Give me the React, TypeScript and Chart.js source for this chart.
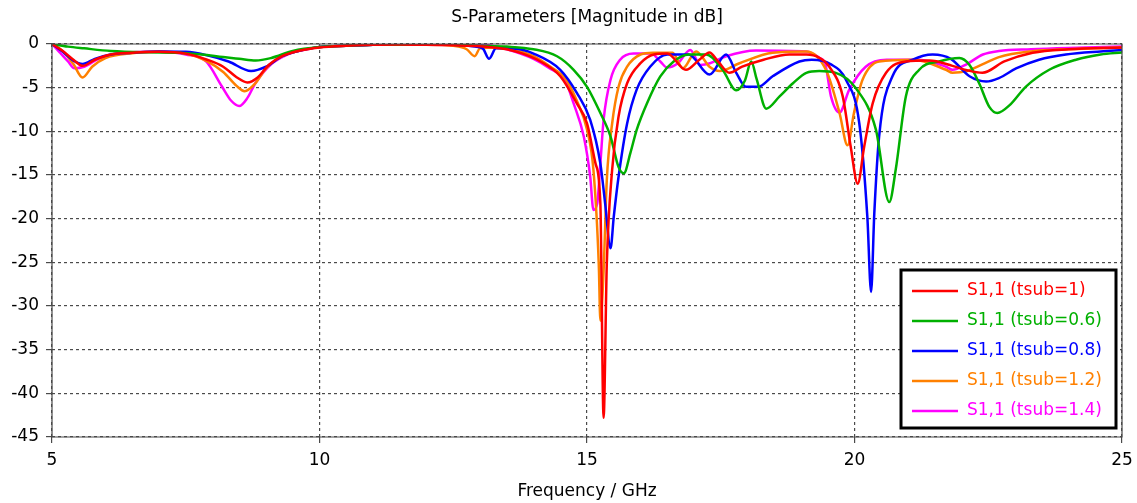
import React, { useEffect, useRef } from "react";
import { Chart, registerables } from "chart.js";

Chart.register(...registerables);

const chartTitle = "S-Parameters [Magnitude in dB]";
const xAxisTitle = "Frequency / GHz";
const xMin = 5;
const xMax = 25;
const xStep = 5;
const yMin = -45;
const yMax = 0;
const yStep = 5;

const seriesLabels = [
  "S1,1 (tsub=1)",
  "S1,1 (tsub=0.6)",
  "S1,1 (tsub=0.8)",
  "S1,1 (tsub=1.2)",
  "S1,1 (tsub=1.4)",
];
const seriesColors = ["#ff0000", "#00b000", "#0000ff", "#ff8000", "#ff00ff"];

// tsub = 1
const fRed = [5.0, 5.2, 5.4, 5.57, 5.8, 6.1, 6.5, 7.0, 7.5, 7.9,
  8.2, 8.45, 8.65, 8.85, 9.05, 9.3, 9.6, 10.0, 10.5, 11.0,
  11.5, 12.0, 12.5, 13.0, 13.5, 13.8, 14.13, 14.5, 14.81, 15.0,
  15.16, 15.25, 15.31, 15.37, 15.47, 15.59, 15.75, 16.0, 16.25, 16.5,
  16.85, 17.1, 17.29, 17.45, 17.66, 17.9, 18.3, 18.78, 19.1, 19.35,
  19.53, 19.78, 19.93, 20.06, 20.18, 20.34, 20.59, 20.96, 21.4, 21.83,
  22.1, 22.39, 22.8, 23.33, 24.0, 25.0];
const dbRed = [0, -0.8, -1.8, -2.5, -1.8, -1.2, -1.0, -0.9, -1.1, -1.8,
  -2.6, -3.8, -4.4, -3.8, -2.4, -1.4, -0.8, -0.4, -0.2, -0.1,
  -0.05, -0.1, -0.15, -0.25, -0.6, -1.1, -2.0, -3.7, -6.8, -9.1,
  -13.7, -18.3, -42.8, -25.2, -14.4, -8.3, -4.5, -2.2, -1.2, -1.1,
  -2.96, -1.8, -0.96, -2.0, -3.3, -2.6, -1.8, -1.2, -1.2, -1.6,
  -2.6, -6.0, -11.8, -16.0, -11.8, -6.8, -3.3, -2.0, -1.9, -2.5,
  -3.0, -3.3, -2.0, -1.0, -0.6, -0.4];

// tsub = 0.6
const fGreen = [5.0, 5.3, 5.6, 6.1, 6.8, 7.35, 7.8, 8.2, 8.5, 8.81,
  9.1, 9.5, 10.0, 10.5, 11.0, 12.0, 12.5, 13.0, 13.5, 14.0,
  14.44, 14.75, 15.0, 15.25, 15.44, 15.59, 15.69, 15.81, 15.93, 16.12,
  16.37, 16.62, 16.9, 17.23, 17.54, 17.79, 17.95, 18.07, 18.17, 18.35,
  18.6, 18.85, 19.1, 19.34, 19.65, 20.03, 20.4, 20.65, 20.77, 20.96,
  21.21, 21.58, 21.96, 22.15, 22.33, 22.52, 22.67, 22.9, 23.2, 23.64,
  24.14, 24.6, 25.0];
const dbGreen = [0, -0.3, -0.5, -0.8, -0.95, -1.0, -1.2, -1.5, -1.7, -1.9,
  -1.6, -0.8, -0.35, -0.2, -0.1, -0.05, -0.1, -0.2, -0.3, -0.6,
  -1.4, -2.95, -4.9, -7.9, -10.6, -14.1, -14.8, -12.5, -9.8, -6.8,
  -3.7, -2.0, -1.2, -1.2, -3.0, -5.3, -4.2, -2.0, -4.0, -7.4,
  -6.0, -4.5, -3.3, -3.1, -3.3, -5.1, -9.8, -18.1, -14.4, -6.0,
  -2.95, -2.0, -1.6, -2.4, -4.5, -7.2, -7.9, -7.0, -4.9, -2.95,
  -1.8, -1.2, -0.96];

// tsub = 0.8
const fBlue = [5.0, 5.2, 5.4, 5.57, 5.8, 6.1, 6.5, 7.0, 7.5, 7.9,
  8.3, 8.72, 9.0, 9.3, 9.6, 10.0, 10.5, 11.0, 11.5, 12.0,
  12.5, 12.9, 13.05, 13.17, 13.3, 13.67, 14.0, 14.5, 14.81, 15.06,
  15.25, 15.34, 15.44, 15.5, 15.59, 15.75, 15.93, 16.18, 16.5, 16.9,
  17.29, 17.6, 17.79, 17.97, 18.2, 18.47, 18.97, 19.2, 19.55, 19.84,
  20.09, 20.24, 20.31, 20.37, 20.46, 20.71, 21.09, 21.46, 21.8, 22.15,
  22.46, 22.7, 23.02, 23.45, 23.95, 24.6, 25.0];
const dbBlue = [0, -0.9, -1.9, -2.3, -1.7, -1.2, -1.0, -0.85, -0.9, -1.3,
  -2.0, -3.1, -2.6, -1.4, -0.8, -0.35, -0.2, -0.1, 0, -0.05,
  -0.1, -0.3, -0.5, -1.7, -0.5, -0.55, -1.1, -2.95, -5.6, -8.7,
  -13.7, -18.3, -23.4, -19.8, -15.2, -9.1, -5.2, -2.6, -1.2, -1.2,
  -3.5, -1.2, -3.3, -4.9, -4.9, -3.7, -2.0, -1.8, -2.3, -4.1,
  -9.1, -19.8, -28.4, -19.4, -10.6, -3.7, -1.8, -1.2, -1.7, -3.7,
  -4.3, -3.9, -2.8, -1.8, -1.2, -0.85, -0.7];

// tsub = 1.2
const fOrange = [5.0, 5.2, 5.4, 5.57, 5.75, 6.0, 6.5, 7.0, 7.5, 7.9,
  8.2, 8.45, 8.6, 8.8, 9.0, 9.3, 9.6, 10.0, 10.5, 11.0,
  12.0, 12.5, 12.75, 12.9, 13.0, 13.3, 13.67, 14.0, 14.29, 14.6,
  14.81, 15.0, 15.12, 15.22, 15.25, 15.31, 15.37, 15.47, 15.59, 15.75,
  16.0, 16.23, 16.6, 16.79, 17.04, 17.29, 17.48, 17.85, 18.47, 19.1,
  19.47, 19.72, 19.87, 19.99, 20.15, 20.46, 21.1, 21.71, 21.83, 22.1,
  22.4, 22.7, 23.3, 24.0, 25.0];
const dbOrange = [0, -0.8, -2.3, -3.85, -2.6, -1.6, -1.05, -0.9, -1.1, -2.0,
  -3.2, -4.8, -5.4, -4.5, -2.8, -1.4, -0.8, -0.35, -0.2, -0.1,
  -0.05, -0.2, -0.6, -1.4, -0.5, -0.4, -0.7, -1.4, -2.5, -4.0,
  -6.5, -9.8, -14.4, -25.2, -31.7, -26.0, -15.6, -9.1, -4.9, -2.6,
  -1.2, -1.0, -1.0, -2.8, -0.85, -2.6, -3.1, -2.2, -1.0, -0.85,
  -3.0, -7.9, -11.6, -7.9, -4.1, -2.0, -1.8, -2.95, -3.3, -3.1,
  -2.3, -1.5, -0.85, -0.6, -0.4];

// tsub = 1.4
const fMagenta = [5.0, 5.15, 5.3, 5.42, 5.6, 5.9, 6.3, 7.0, 7.5, 7.88,
  8.18, 8.35, 8.5, 8.65, 8.8, 9.1, 9.4, 9.7, 10.0, 10.5,
  11.0, 12.0, 12.5, 13.1, 13.5, 14.0, 14.29, 14.6, 14.75, 14.94,
  15.06, 15.12, 15.19, 15.25, 15.31, 15.44, 15.62, 15.87, 16.2, 16.37,
  16.5, 16.7, 16.93, 17.12, 17.3, 17.6, 18.16, 19.1, 19.35, 19.45,
  19.56, 19.72, 19.9, 20.21, 20.6, 21.2, 21.71, 21.83, 22.1, 22.4,
  22.7, 23.3, 24.0, 25.0];
const dbMagenta = [0, -1.0, -2.0, -2.77, -2.6, -1.6, -1.05, -0.9, -1.2, -2.0,
  -4.9, -6.5, -7.1, -6.2, -4.5, -2.3, -1.2, -0.7, -0.35, -0.2,
  -0.1, -0.05, 0, -0.1, -0.6, -1.7, -2.75, -4.3, -6.8, -10.6,
  -15.2, -19.0, -18.3, -13.7, -8.7, -4.1, -1.8, -1.1, -1.1, -2.0,
  -2.7, -2.2, -0.7, -2.4, -2.2, -1.4, -0.73, -0.85, -1.6, -2.2,
  -6.0, -7.85, -5.25, -2.6, -1.8, -1.8, -2.6, -2.95, -2.3, -1.2,
  -0.8, -0.6, -0.45, -0.3];

const seriesFreqs = [fRed, fGreen, fBlue, fOrange, fMagenta];
const seriesValues = [dbRed, dbGreen, dbBlue, dbOrange, dbMagenta];

const FONT = "'DejaVu Sans', sans-serif";
const FONT_SIZE = 17;
const GRID_COLOR = "#4a4a4a";

const framePlugin = {
  id: "frame",
  afterDatasetsDraw(chart: any) {
    const { ctx, chartArea } = chart;
    const { left, right, top, bottom } = chartArea;
    ctx.save();
    ctx.strokeStyle = GRID_COLOR;
    ctx.lineWidth = 1.2;
    ctx.setLineDash([]);
    ctx.beginPath();
    ctx.moveTo(left, top);
    ctx.lineTo(right, top);
    ctx.lineTo(right, bottom);
    ctx.lineTo(left, bottom);
    ctx.lineTo(left, top);
    ctx.stroke();
    ctx.restore();
  },
};

const titlePlugin = {
  id: "customTitle",
  afterDraw(chart: any) {
    const { ctx, chartArea } = chart;
    ctx.save();
    ctx.font = `${FONT_SIZE}px ${FONT}`;
    ctx.fillStyle = "#000";
    ctx.textAlign = "center";
    ctx.textBaseline = "middle";
    ctx.fillText(chartTitle, (chartArea.left + chartArea.right) / 2, 18);
    ctx.restore();
  },
};

const legendPlugin = {
  id: "boxLegend",
  afterDraw(chart: any) {
    const { ctx, chartArea } = chart;
    const w = 215;
    const h = 158;
    const x0 = chartArea.right - 6 - w;
    const y0 = chartArea.bottom - 9 - h;
    ctx.save();
    ctx.fillStyle = "#fff";
    ctx.fillRect(x0, y0, w, h);
    ctx.strokeStyle = "#000";
    ctx.lineWidth = 3;
    ctx.setLineDash([]);
    ctx.strokeRect(x0, y0, w, h);
    ctx.font = `${FONT_SIZE}px ${FONT}`;
    ctx.textBaseline = "middle";
    ctx.textAlign = "left";
    chart.data.datasets.forEach((ds: any, i: number) => {
      const y = y0 + 21 + i * 30;
      ctx.strokeStyle = ds.borderColor;
      ctx.lineWidth = 2.5;
      ctx.beginPath();
      ctx.moveTo(x0 + 11, y);
      ctx.lineTo(x0 + 57, y);
      ctx.stroke();
      ctx.fillStyle = ds.borderColor;
      ctx.fillText(ds.label, x0 + 66, y);
    });
    ctx.restore();
  },
};

export default function App() {
  const canvasRef = useRef<HTMLCanvasElement | null>(null);

  useEffect(() => {
    if (!canvasRef.current) return;
    const datasets = seriesLabels.map((label, i) => ({
      label,
      data: seriesFreqs[i].map((f, j) => ({ x: f, y: seriesValues[i][j] })),
      borderColor: seriesColors[i],
      backgroundColor: seriesColors[i],
      borderWidth: 2.5,
      pointRadius: 0,
      fill: false,
      cubicInterpolationMode: "monotone" as const,
    }));

    const chart = new Chart(canvasRef.current, {
      type: "line",
      data: { datasets },
      plugins: [framePlugin, titlePlugin, legendPlugin],
      options: {
        animation: false,
        responsive: true,
        maintainAspectRatio: false,
        layout: { padding: { top: 44, right: 15, left: 0, bottom: 0 } },
        plugins: {
          legend: { display: false },
          title: { display: false },
          tooltip: { enabled: false },
        },
        scales: {
          x: {
            type: "linear",
            min: xMin,
            max: xMax,
            ticks: {
              stepSize: xStep,
              color: "#000",
              padding: 7,
              maxRotation: 0,
              font: { family: FONT, size: FONT_SIZE },
            },
            grid: {
              color: GRID_COLOR,
              lineWidth: 1.2,
              tickLength: 6,
              tickColor: GRID_COLOR,
            },
            border: { display: false, dash: [3, 3] },
            title: {
              display: true,
              text: xAxisTitle,
              color: "#000",
              font: { family: FONT, size: FONT_SIZE },
              padding: { top: 0, bottom: 1 },
            },
            afterFit: (scale: any) => {
              scale.height = 66;
              scale.paddingRight = 0;
              scale.paddingLeft = 0;
            },
          },
          y: {
            type: "linear",
            min: yMin,
            max: yMax,
            ticks: {
              stepSize: yStep,
              color: "#000",
              padding: 7,
              font: { family: FONT, size: FONT_SIZE },
            },
            grid: {
              color: GRID_COLOR,
              lineWidth: 1.2,
              tickLength: 6,
              tickColor: GRID_COLOR,
            },
            border: { display: false, dash: [3, 3] },
            afterFit: (scale: any) => {
              scale.width = 52;
              scale.paddingTop = 0;
              scale.paddingBottom = 0;
            },
          },
        },
      },
    });
    return () => chart.destroy();
  }, []);

  return (
    <div style={{ position: "fixed", left: 0, top: 0, width: 1137, height: 503, background: "#fff" }}>
      <canvas ref={canvasRef} />
    </div>
  );
}
